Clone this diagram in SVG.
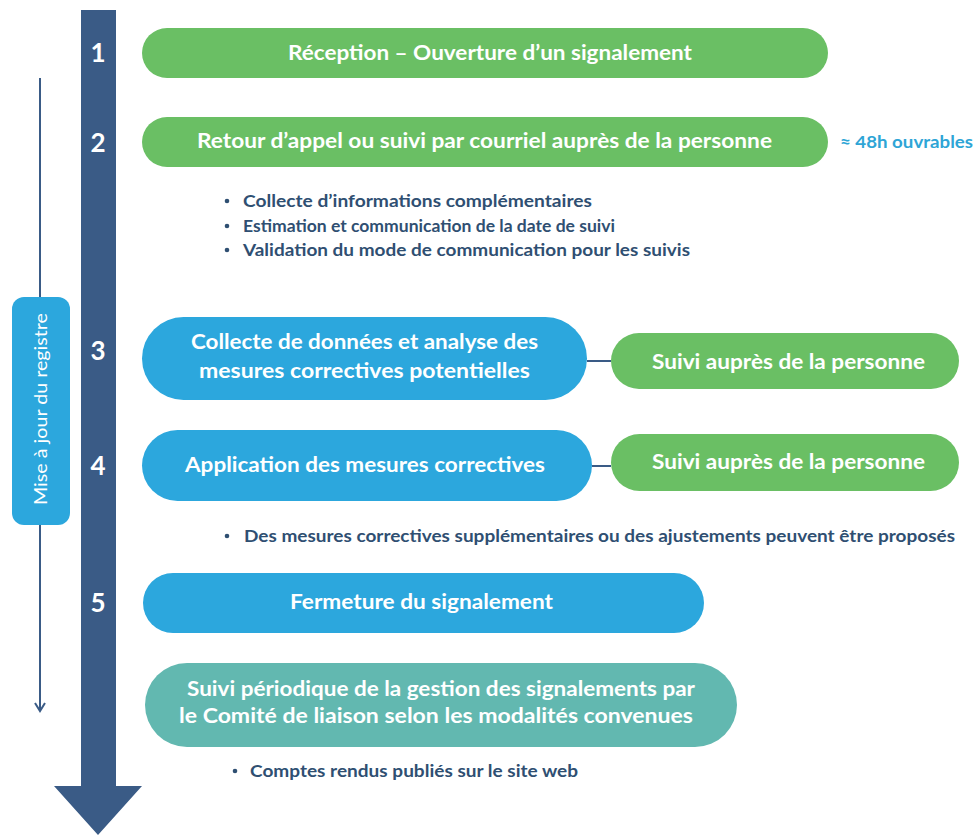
<svg xmlns="http://www.w3.org/2000/svg" width="977" height="835" viewBox="0 0 977 835">
<style>
.green{fill:#6abf64}
.blue{fill:#2ca7dd}
.teal{fill:#62b8b0}
.navy{fill:#3a5b86}
.bt{font-family:Lato,"Open Sans","Liberation Sans",sans-serif;font-weight:bold;font-size:21.5px;fill:#ffffff;text-anchor:middle}
.num{font-family:Lato,"Open Sans","Liberation Sans",sans-serif;font-weight:bold;font-size:26px;fill:#ffffff;text-anchor:middle}
.bul{font-family:Lato,"Open Sans","Liberation Sans",sans-serif;font-weight:bold;font-size:17.5px;fill:#2f4f72}
.dot{fill:#2f4f72}
.conn{stroke:#3a5b86;stroke-width:2;fill:none}
</style>
<rect width="977" height="835" fill="#ffffff"/>

<g id="timeline">
<line class="conn" x1="40" y1="78" x2="40" y2="711"/>
<polyline class="conn" points="35,703 40,711 45,703"/>
<polygon class="navy" points="81,10 116,10 116,786 142,786 98,835 54,786 81,786"/>
<text class="num" x="98" y="62">1</text>
<text class="num" x="98" y="152">2</text>
<text class="num" x="98" y="360">3</text>
<text class="num" x="98" y="475">4</text>
<text class="num" x="98" y="612">5</text>
</g>

<g id="registre">
<rect class="blue" x="12" y="297" width="58" height="228" rx="12"/>
<text x="0" y="0" transform="translate(47,409) rotate(-90)" font-family="Lato,'Open Sans','Liberation Sans',sans-serif" font-size="17.5px" fill="#ffffff" text-anchor="middle" textLength="192" lengthAdjust="spacingAndGlyphs">Mise à jour du registre</text>
</g>

<g id="connectors">
<line class="conn" x1="587" y1="361" x2="611" y2="361"/>
<line class="conn" x1="592" y1="466" x2="611" y2="466"/>
</g>

<g id="step1">
<rect class="green" x="142" y="28" width="686" height="50" rx="25"/>
<text class="bt" x="490" y="60" textLength="404" lengthAdjust="spacingAndGlyphs">Réception – Ouverture d’un signalement</text>
</g>

<g id="step2">
<rect class="green" x="142" y="117" width="686" height="50" rx="25"/>
<text class="bt" x="484.5" y="148" textLength="575" lengthAdjust="spacingAndGlyphs">Retour d’appel ou suivi par courriel auprès de la personne</text>
<text x="840" y="148" font-family="Lato,'Open Sans','Liberation Sans',sans-serif" font-weight="bold" font-size="17.5px" fill="#2ea5d6" textLength="133" lengthAdjust="spacingAndGlyphs">≈ 48h ouvrables</text>
</g>

<g id="step2-bullets">
<circle class="dot" cx="227" cy="201" r="2.3"/>
<text class="bul" x="243" y="207" textLength="349" lengthAdjust="spacingAndGlyphs">Collecte d’informations complémentaires</text>
<circle class="dot" cx="227" cy="226" r="2.3"/>
<text class="bul" x="243" y="232" textLength="372" lengthAdjust="spacingAndGlyphs">Estimation et communication de la date de suivi</text>
<circle class="dot" cx="227" cy="250" r="2.3"/>
<text class="bul" x="243" y="256" textLength="447" lengthAdjust="spacingAndGlyphs">Validation du mode de communication pour les suivis</text>
</g>

<g id="step3">
<rect class="blue" x="142" y="317" width="445" height="83" rx="41.5"/>
<text class="bt" x="364.5" y="349" textLength="347" lengthAdjust="spacingAndGlyphs">Collecte de données et analyse des</text>
<text class="bt" x="364.5" y="378" textLength="331" lengthAdjust="spacingAndGlyphs">mesures correctives potentielles</text>
</g>

<g id="suivi3">
<rect class="green" x="611" y="333" width="348" height="56" rx="28"/>
<text class="bt" x="788.5" y="369" textLength="273" lengthAdjust="spacingAndGlyphs">Suivi auprès de la personne</text>
</g>

<g id="step4">
<rect class="blue" x="142" y="430" width="450" height="71" rx="35.5"/>
<text class="bt" x="365" y="472" textLength="360" lengthAdjust="spacingAndGlyphs">Application des mesures correctives</text>
</g>

<g id="suivi4">
<rect class="green" x="611" y="434" width="348" height="57" rx="28.5"/>
<text class="bt" x="788.5" y="469" textLength="273" lengthAdjust="spacingAndGlyphs">Suivi auprès de la personne</text>
</g>

<g id="step4-bullet">
<circle class="dot" cx="227" cy="536" r="2.3"/>
<text class="bul" x="244" y="542" textLength="711" lengthAdjust="spacingAndGlyphs">Des mesures correctives supplémentaires ou des ajustements peuvent être proposés</text>
</g>

<g id="step5">
<rect class="blue" x="143" y="573" width="561" height="60" rx="30"/>
<text class="bt" x="421.5" y="609" textLength="263" lengthAdjust="spacingAndGlyphs">Fermeture du signalement</text>
</g>

<g id="suivi-periodique">
<rect class="teal" x="145" y="663" width="592" height="84" rx="42"/>
<text class="bt" x="441" y="696" textLength="508" lengthAdjust="spacingAndGlyphs">Suivi périodique de la gestion des signalements par</text>
<text class="bt" x="436" y="723" textLength="514" lengthAdjust="spacingAndGlyphs">le Comité de liaison selon les modalités convenues</text>
</g>

<g id="final-bullet">
<circle class="dot" cx="235" cy="771" r="2.3"/>
<text class="bul" x="250" y="777" textLength="328" lengthAdjust="spacingAndGlyphs">Comptes rendus publiés sur le site web</text>
</g>
</svg>
